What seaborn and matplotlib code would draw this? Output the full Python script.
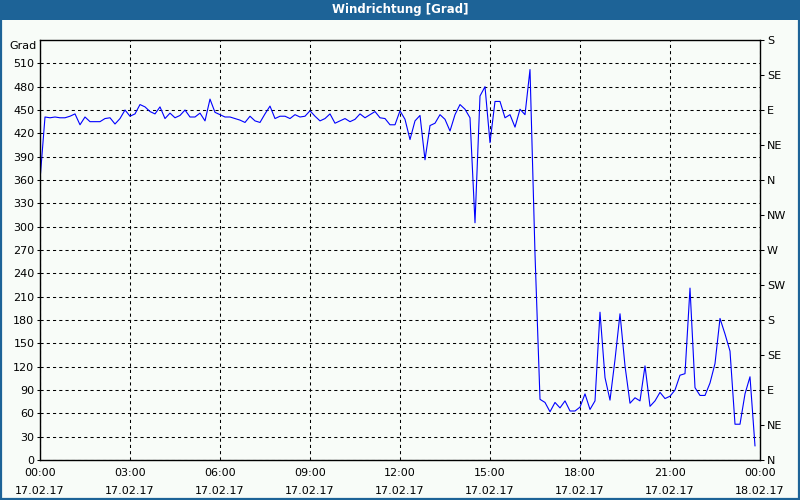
import numpy as np
import pandas as pd
import matplotlib
matplotlib.use("Agg")
import matplotlib.pyplot as plt
import matplotlib.dates as mdates
from matplotlib.patches import Rectangle
import seaborn as sns

# ---- data ----
title = "Windrichtung [Grad]"
y_label = "Grad"
start_time = "2017-02-17 00:00"
end_time = "2017-02-18 00:00"
directions = ["N", "NE", "E", "SE", "S", "SW", "W", "NW", "N", "NE", "E", "SE", "S"]
left_ticks = [0, 30, 60, 90, 120, 150, 180, 210, 240, 270, 300, 330, 360, 390, 420, 450, 480, 510]
right_ticks = [0, 45, 90, 135, 180, 225, 270, 315, 360, 405, 450, 495, 540]
wind_dir = [
    360, 441, 440, 441, 440, 440, 442, 445, 431, 441,
    435, 435, 435, 439, 440, 432, 439, 450, 442, 445,
    457, 454, 448, 445, 454, 439, 446, 440, 443, 450,
    441, 441, 446, 436, 464, 447, 444, 441, 441, 439,
    437, 434, 442, 436, 434, 445, 455, 439, 442, 442,
    439, 444, 441, 442, 449, 442, 436, 439, 445, 433,
    436, 439, 435, 438, 445, 440, 444, 448, 440, 439,
    431, 431, 449, 438, 412, 436, 443, 386, 430, 433,
    444, 438, 423, 444, 457, 451, 440, 305, 468, 480,
    408, 461, 461, 440, 444, 428, 451, 444, 502, 265,
    78, 74, 62, 74, 67, 76, 63, 63, 68, 85,
    65, 76, 190, 106, 77, 129, 188, 121, 73, 80,
    76, 121, 69, 76, 87, 79, 82, 90, 109, 111,
    221, 93, 83, 83, 99, 124, 182, 162, 140, 46,
    46, 85, 107, 18,
]
times = pd.date_range(start_time, periods=len(wind_dir), freq="10min")
df = pd.DataFrame({"Zeit": times, "Richtung": wind_dir})

# ---- style ----
bg = "#F8FCF8"
bar_col = "#1D6397"
sns.set_theme(style="white")
plt.rcParams["font.family"] = ["DejaVu Sans"]

fig = plt.figure(figsize=(8, 5), dpi=100, facecolor=bg)
ax = fig.add_axes([0.05, 0.08, 0.90, 0.84])
ax.set_facecolor(bg)

sns.lineplot(data=df, x="Zeit", y="Richtung", ax=ax, color="#0000FF", linewidth=0.8)

ax.set_xlim(pd.Timestamp(start_time), pd.Timestamp(end_time))
ax.set_ylim(0, 540)
ax.set_yticks(left_ticks)
ax.set_xlabel("")
ax.set_ylabel("")

ax.xaxis.set_major_locator(mdates.HourLocator(byhour=range(0, 24, 3)))
ax.xaxis.set_minor_locator(mdates.HourLocator())
ax.xaxis.set_major_formatter(mdates.DateFormatter("%H:%M\n%d.%m.%y"))

ax.grid(True, which="major", color="black", linestyle=(0, (3, 3)), linewidth=0.75)
ax.tick_params(axis="both", which="both", direction="out", color="black",
               width=0.75, labelsize=8, labelcolor="black")
ax.tick_params(axis="x", which="major", length=3, pad=3)
ax.tick_params(axis="x", which="minor", length=3)
ax.tick_params(axis="y", which="major", length=2, pad=2)
for lbl in ax.get_xticklabels():
    lbl.set_linespacing(2.0)
for sp in ax.spines.values():
    sp.set_visible(True)
    sp.set_color("black")
    sp.set_linewidth(1.0)

ax2 = ax.twinx()
ax2.set_ylim(0, 540)
ax2.set_yticks(right_ticks)
ax2.set_yticklabels(directions)
ax2.tick_params(axis="y", direction="out", length=3, width=0.75, pad=2,
                labelsize=8, color="black", labelcolor="black")
ax2.grid(False)
for sp in ax2.spines.values():
    sp.set_visible(False)

fig.text(37 / 800, 1 - 46 / 500, y_label, ha="right", va="center", fontsize=8, color="black")

# title bar and frame
fig.patches.append(Rectangle((0, 1 - 20 / 500), 1, 20 / 500, transform=fig.transFigure,
                             facecolor=bar_col, edgecolor="none", zorder=0))
fig.text(0.5, 1 - 10 / 500, title, ha="center", va="center", fontsize=8.5,
         fontweight="bold", color="white")
fig.patches.append(Rectangle((0.001, 0.002), 0.998, 0.996, transform=fig.transFigure,
                             facecolor="none", edgecolor=bar_col, linewidth=1.6, zorder=5))

fig.savefig("out.png", dpi=100, facecolor=bg)
